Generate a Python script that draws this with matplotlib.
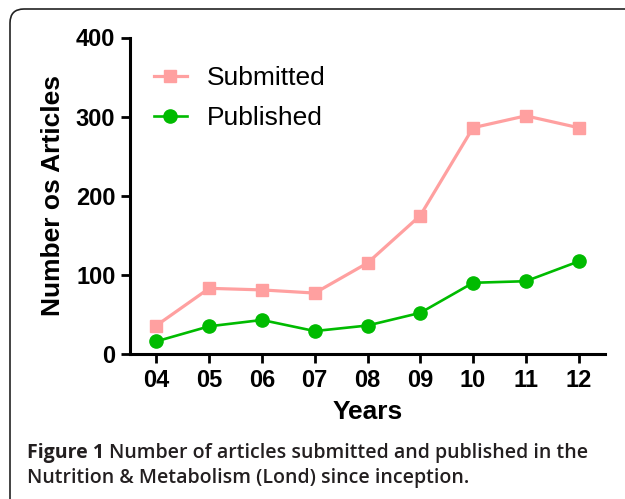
import matplotlib
matplotlib.use("Agg")
import matplotlib.pyplot as plt
from matplotlib.patches import FancyBboxPatch
from matplotlib.transforms import IdentityTransform

years = ["04", "05", "06", "07", "08", "09", "10", "11", "12"]
submitted = [36, 83, 81, 77, 115, 175, 286, 301, 286]
published = [16, 35, 43, 29, 36, 52, 90, 92, 117]
yticks = [0, 100, 200, 300, 400]

W, H = 625, 499
fig = plt.figure(figsize=(W / 100, H / 100), dpi=100)

# rounded frame (pixel coordinates, origin bottom-left)
frame = FancyBboxPatch((10, -60), W + 60, H - 9 + 60,
                       boxstyle="round,pad=0,rounding_size=14",
                       transform=IdentityTransform(), fill=False,
                       edgecolor="#222222", linewidth=1.2, zorder=0)
fig.patches.append(frame)

ax = fig.add_axes([130 / W, (H - 354) / H, (605 - 130) / W, (354 - 37.5) / H])
x = list(range(len(years)))
ax.plot(x, submitted, color="#FFA0A0", lw=2.3, marker="s", ms=9,
        label="Submitted", clip_on=False)
ax.plot(x, published, color="#00BB00", lw=1.9, marker="o", ms=9.5,
        label="Published", clip_on=False)

ax.set_xlim(-0.5, len(years) - 0.5)
ax.set_ylim(0, 400)
ax.set_yticks(yticks)
ax.set_xticks(x)
ax.set_xticklabels(years)
for s in ["top", "right"]:
    ax.spines[s].set_visible(False)
for s in ["left", "bottom"]:
    ax.spines[s].set_linewidth(2.2)
ax.tick_params(axis="both", direction="out", length=6.5, width=2.0,
               labelsize=17, pad=4)
for lab in ax.get_xticklabels() + ax.get_yticklabels():
    lab.set_fontfamily("Liberation Sans")
    lab.set_fontweight("bold")
ax.set_xlabel("Years", fontsize=19, fontweight="bold",
              fontfamily="Liberation Sans", labelpad=6)
ax.set_ylabel("Number os Articles", fontsize=19, fontweight="bold",
              fontfamily="Liberation Sans", labelpad=8)

leg = ax.legend(loc="upper left", bbox_to_anchor=(0.0, 0.985), frameon=False,
                prop={"family": "Liberation Sans", "size": 19},
                handlelength=1.25, handletextpad=0.75, labelspacing=0.6)

cap_kw = dict(fontsize=14, fontfamily="Open Sans", color="#231f20",
              va="center", ha="left")
t1 = fig.text(27 / W, 1 - 453 / H, "Figure 1", fontweight="bold", **cap_kw)
fig.canvas.draw()
bb = t1.get_window_extent()
fig.text((bb.x1 + 5) / W, 1 - 453 / H,
         "Number of articles submitted and published in the",
         fontweight="semibold", **cap_kw)
fig.text(27 / W, 1 - 478 / H, "Nutrition & Metabolism (Lond) since inception.",
         fontweight="semibold", **cap_kw)

fig.savefig("out.png", dpi=100)
